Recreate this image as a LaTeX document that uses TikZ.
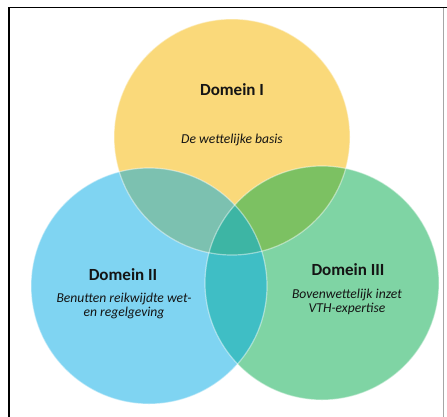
\documentclass[tikz,border=0pt]{standalone}
\usepackage{fontspec}
\setmainfont{Carlito}
\definecolor{cyellow}{RGB}{250,217,122}
\definecolor{cgreen}{RGB}{0,170,75}
\definecolor{cblue}{RGB}{0,170,230}
\definecolor{ctext}{RGB}{20,20,20}
\tikzset{
  title/.style={font=\fontsize{17}{19}\selectfont\bfseries, text=ctext, align=center},
  sub/.style={font=\fontsize{13.6}{15}\selectfont\itshape, text=ctext, align=center},
  rim/.style={draw=white, draw opacity=0.45, line width=1.2pt}
}
\begin{document}
\begin{tikzpicture}[x=1pt,y=-1pt]
\useasboundingbox (0,0) rectangle (447,416);
\fill[white] (0,0) rectangle (447,416);
% frame
\draw[black, line width=1.4pt] (9,420) -- (9,7.5) -- (447,7.5);
\draw[gray!70, line width=0.6pt] (443.5,8) -- (443.5,420);
% circles
\coordinate (cy) at (232,137);
\coordinate (cg) at (322,283);
\coordinate (cb) at (149,286);
\fill[cyellow] (cy) circle (118);
\fill[cgreen, fill opacity=0.5] (cg) circle (117);
\fill[cblue, fill opacity=0.5] (cb) circle (118);
\draw[rim] (cy) circle (118);
\draw[rim] (cg) circle (117);
\draw[rim] (cb) circle (118);
% texts
\node[title] (t1) at (232,90) {Domein I};
\node[sub] (s1) at (232,140) {De wettelijke basis};
\node[title] (t2) at (123,275) {Domein II};
\node[sub] (s2) at (124,306) {Benutten reikwijdte wet-\\[-1pt]en regelgeving};
\node[title] (t3) at (348,270) {Domein III};
\node[sub] (s3) at (347,302) {Bovenwettelijk inzet\\[-1pt]VTH-expertise};
\end{tikzpicture}
\end{document}
